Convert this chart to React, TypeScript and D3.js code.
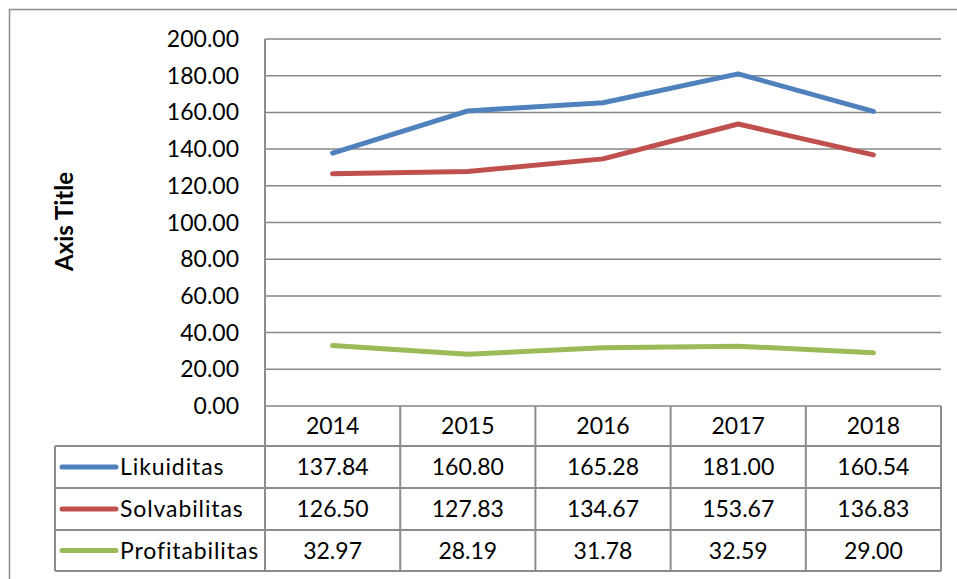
import React from "react";
import * as d3 from "d3";

const years = ["2014", "2015", "2016", "2017", "2018"];
const seriesNames = ["Likuiditas", "Solvabilitas", "Profitabilitas"];
const likuiditas = [137.84, 160.8, 165.28, 181.0, 160.54];
const solvabilitas = [126.5, 127.83, 134.67, 153.67, 136.83];
const profitabilitas = [32.97, 28.19, 31.78, 32.59, 29.0];
const yTicks = [0, 20, 40, 60, 80, 100, 120, 140, 160, 180, 200];
const colors = ["#4F81BD", "#C0504D", "#9BBB59"];
const axisTitle = "Axis Title";

const W = 957;
const H = 579;
const plotLeft = 265;
const plotRight = 941;
const plotTop = 39;
const plotBottom = 406;
const tableLeft = 55;
const rowEdges = [406, 446, 488, 530, 571];
const FONT = "Lato, 'Open Sans', sans-serif";
const GRID = "#878787";
const BORDER = "#8c8c8c";

export default function App() {
  const series = [likuiditas, solvabilitas, profitabilitas];
  const x = d3.scaleBand<string>().domain(years).range([plotLeft, plotRight]);
  const y = d3.scaleLinear().domain([0, 200]).range([plotBottom, plotTop]);
  const line = d3
    .line<number>()
    .x((_, i) => (x(years[i]) as number) + x.bandwidth() / 2)
    .y((d) => y(d));

  const colEdges = years.map((yr) => x(yr) as number).concat([plotRight]);

  return (
    <svg
      width={W}
      height={H}
      style={{ position: "absolute", left: 0, top: 0, background: "#fff" }}
      fontFamily={FONT}
    >
      <rect x={0} y={0} width={W} height={H} fill="#fff" />
      {/* outer chart border */}
      <rect x={9.5} y={9.5} width={W + 20} height={H + 20} fill="none" stroke={BORDER} strokeWidth={1.5} />

      {/* gridlines */}
      {yTicks.map((t) => (
        <line key={t} x1={plotLeft} x2={plotRight} y1={y(t)} y2={y(t)} stroke={GRID} strokeWidth={1.5} />
      ))}
      {/* y tick labels */}
      {yTicks.map((t) => (
        <text key={"l" + t} x={239} y={y(t)} dy="0.35em" textAnchor="end" fontSize={23} fill="#000">
          {t.toFixed(2)}
        </text>
      ))}
      {/* axis title */}
      <text
        transform={`translate(73,${(plotTop + plotBottom) / 2 - 1}) rotate(-90)`}
        textAnchor="middle"
        fontSize={24}
        fontWeight="bold"
        fill="#000"
      >
        {axisTitle}
      </text>

      {/* table */}
      <line x1={plotLeft} x2={plotLeft} y1={plotTop} y2={rowEdges[4]} stroke={BORDER} strokeWidth={2} />
      {colEdges.slice(1).map((cx, i) => (
        <line key={"c" + i} x1={cx} x2={cx} y1={rowEdges[0]} y2={rowEdges[4]} stroke={BORDER} strokeWidth={2} />
      ))}
      <line x1={tableLeft} x2={tableLeft} y1={rowEdges[1]} y2={rowEdges[4]} stroke={BORDER} strokeWidth={2} />
      {rowEdges.slice(1).map((ry, i) => (
        <line key={"r" + i} x1={tableLeft} x2={plotRight} y1={ry} y2={ry} stroke={BORDER} strokeWidth={2} />
      ))}
      {years.map((yr) => (
        <text
          key={"y" + yr}
          x={(x(yr) as number) + x.bandwidth() / 2}
          y={(rowEdges[0] + rowEdges[1]) / 2}
          dy="0.35em"
          textAnchor="middle"
          fontSize={23}
          fill="#000"
        >
          {yr}
        </text>
      ))}
      {series.map((vals, si) => {
        const cy = (rowEdges[si + 1] + rowEdges[si + 2]) / 2;
        return (
          <g key={"row" + si}>
            <line x1={62} x2={116} y1={cy} y2={cy} stroke={colors[si]} strokeWidth={5} strokeLinecap="round" />
            <text x={120} y={cy} dy="0.35em" fontSize={23} letterSpacing={0.9} fill="#000">
              {seriesNames[si]}
            </text>
            {vals.map((v, i) => (
              <text
                key={i}
                x={(x(years[i]) as number) + x.bandwidth() / 2}
                y={cy}
                dy="0.35em"
                textAnchor="middle"
                fontSize={23}
                fill="#000"
              >
                {v.toFixed(2)}
              </text>
            ))}
          </g>
        );
      })}

      {/* lines */}
      {series.map((vals, si) => (
        <path
          key={"p" + si}
          d={line(vals) || ""}
          fill="none"
          stroke={colors[si]}
          strokeWidth={5}
          strokeLinecap="round"
          strokeLinejoin="round"
        />
      ))}
    </svg>
  );
}
